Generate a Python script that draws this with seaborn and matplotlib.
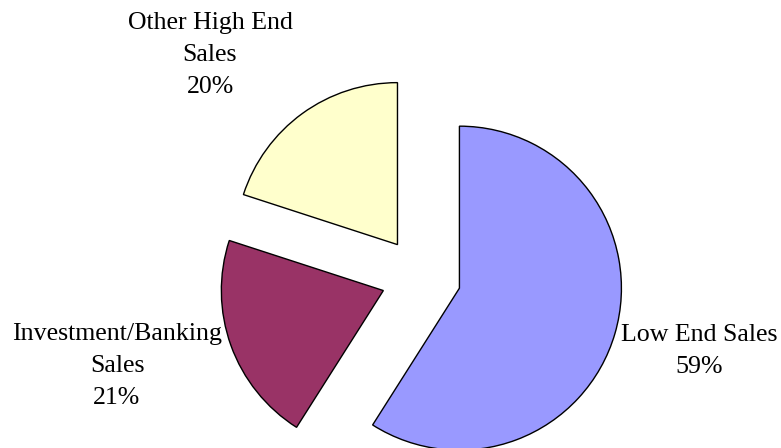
import matplotlib
matplotlib.use("Agg")
import matplotlib.pyplot as plt
import seaborn as sns

# data
segments = ["Low End Sales", "Investment/Banking\nSales", "Other High End\nSales"]
shares = [59, 21, 20]
colors = ["#9999FF", "#993366", "#FFFFCC"]

sns.set_theme(style="white")
plt.rcParams["font.family"] = ["Liberation Serif", "DejaVu Serif"]

W, H = 781, 448
fig = plt.figure(figsize=(W / 100, H / 100), dpi=100)
ax = fig.add_axes([0, 0, 1, 1])

radius = 162
# explode is in data units when radius != 1
wedges, _ = ax.pie(
    shares,
    colors=colors,
    startangle=90,
    counterclock=False,
    explode=[0.247 * radius] * len(shares),
    radius=radius,
    center=(421, H - 277),
    wedgeprops=dict(edgecolor="black", linewidth=1.0),
)

ax.set_xlim(0, W)
ax.set_ylim(0, H)
ax.set_aspect("equal")
ax.axis("off")

# label placement (pixel coords, y measured from top)
label_pos = [(699, 351), (117, 366), (210, 55)]
for name, val, (x, y) in zip(segments, shares, label_pos):
    ax.text(x, H - y, f"{name}\n{val}%", ha="center", va="center",
            fontsize=18.6, linespacing=1.57, color="black")

fig.savefig("out.png", dpi=100)
